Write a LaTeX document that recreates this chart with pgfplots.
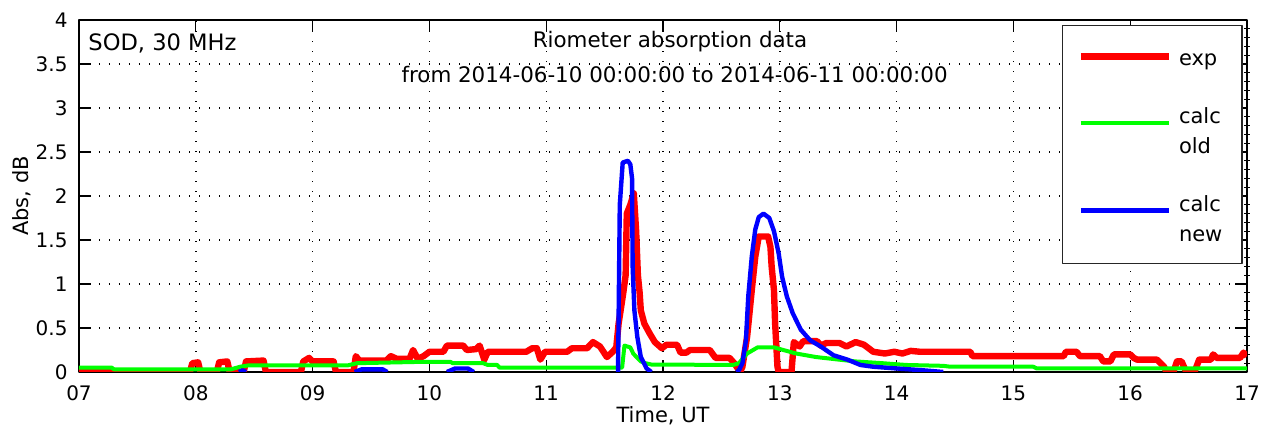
\documentclass[border=0pt]{standalone}
\usepackage{pgfplots}
\usepackage{pgfplotstable}
\pgfplotsset{compat=1.18}
\usepackage{fontspec}
\setmainfont{DejaVu Sans}
\newcommand{\lone}[1]{\hbox to 24pt{\strut #1\hfil}}
\newcommand{\ltwo}[2]{\vbox{\hbox to 24pt{\strut #1\hfil}\hbox to 24pt{\strut #2\hfil}}}
\pgfplotsset{
  legred/.style={legend image code/.code={\draw[##1] (0pt,4.5pt) -- (44pt,4.5pt);}},
  leggreen/.style={legend image code/.code={\draw[##1] (0pt,15.25pt) -- (44pt,15.25pt);}},
  legblue/.style={legend image code/.code={\draw[##1] (0pt,15.5pt) -- (44pt,15.5pt);}},
}

\pgfplotstableread{
x y
7.00 0
7.95 0
7.97 0.1
8.02 0.11
8.04 0
8.18 0
8.20 0.11
8.27 0.12
8.29 0
8.41 0
8.43 0.12
8.58 0.13
8.60 0
8.90 0
8.92 0.12
8.97 0.16
9.00 0.12
9.18 0.12
9.20 0
9.35 0
9.37 0.18
9.40 0.13
9.63 0.13
9.67 0.18
9.72 0.15
9.83 0.15
9.86 0.25
9.90 0.15
9.95 0.18
10.00 0.23
10.12 0.23
10.15 0.30
10.29 0.30
10.32 0.25
10.40 0.26
10.43 0.30
10.47 0.14
10.50 0.23
10.83 0.23
10.88 0.27
10.92 0.27
10.95 0.14
10.99 0.23
11.18 0.23
11.22 0.27
11.35 0.27
11.40 0.34
11.46 0.29
11.52 0.17
11.57 0.23
11.60 0.28
11.62 0.55
11.66 0.9
11.68 1.1
11.69 1.8
11.72 1.9
11.75 2.03
11.77 1.6
11.785 1.1
11.80 0.9
11.81 0.7
11.84 0.55
11.885 0.44
11.93 0.34
11.99 0.27
12.03 0.31
12.12 0.31
12.15 0.22
12.20 0.22
12.23 0.25
12.40 0.25
12.45 0.16
12.57 0.16
12.61 0.1
12.64 0.04
12.66 0
12.68 0.06
12.72 0.4
12.76 0.93
12.79 1.31
12.82 1.54
12.90 1.54
12.92 1.42
12.93 1.2
12.95 0.93
12.96 0.55
12.98 0.06
12.99 0
13.10 0
13.12 0.34
13.17 0.29
13.20 0.35
13.32 0.35
13.35 0.30
13.40 0.33
13.51 0.33
13.57 0.29
13.65 0.34
13.72 0.31
13.80 0.23
13.90 0.21
13.98 0.23
14.05 0.21
14.12 0.24
14.20 0.23
14.63 0.23
14.65 0.18
15.43 0.18
15.45 0.23
15.54 0.23
15.57 0.18
15.74 0.18
15.77 0.12
15.83 0.12
15.86 0.20
16.00 0.20
16.03 0.16
16.06 0.14
16.23 0.14
16.29 0.06
16.31 0
16.37 0
16.40 0.12
16.44 0.12
16.48 0
16.55 0
16.59 0.14
16.69 0.14
16.71 0.20
16.74 0.16
16.94 0.16
16.97 0.22
17.00 0.18
}\redtab

\pgfplotstableread{
x y
7.00 0.05
7.28 0.05
7.30 0.03
8.30 0.03
8.38 0.06
8.45 0.075
9.30 0.075
9.38 0.10
9.92 0.115
10.18 0.115
10.20 0.10
10.46 0.10
10.50 0.08
10.58 0.08
10.60 0.05
11.65 0.05
11.67 0.30
11.72 0.28
11.745 0.21
11.78 0.16
11.81 0.12
11.85 0.10
11.90 0.085
12.60 0.08
12.65 0.10
12.72 0.21
12.81 0.28
12.95 0.28
13.03 0.25
13.14 0.21
13.31 0.17
13.51 0.14
13.65 0.12
13.88 0.10
14.08 0.08
14.40 0.07
14.46 0.06
15.17 0.06
15.20 0.04
17.00 0.04
}\greentab

\pgfplotstableread{
x y
8.37 0
8.40 0.02
8.43 0
8.44 nan
9.36 0
9.42 0.03
9.60 0.03
9.64 0
9.65 nan
10.15 0
10.22 0.04
10.33 0.04
10.38 0
10.39 nan
11.60 0
11.615 0
11.63 1.9
11.655 2.38
11.70 2.40
11.72 2.36
11.735 2.2
11.74 1.2
11.755 0.7
11.78 0.4
11.81 0.17
11.86 0.04
11.90 0
11.91 nan
12.63 0
12.65 0.02
12.68 0.1
12.71 0.36
12.73 0.86
12.76 1.31
12.79 1.62
12.82 1.76
12.86 1.80
12.91 1.75
12.95 1.60
12.99 1.35
13.02 1.08
13.06 0.86
13.11 0.67
13.18 0.48
13.26 0.36
13.35 0.29
13.46 0.19
13.58 0.14
13.69 0.08
13.80 0.06
14.00 0.04
14.22 0.02
14.40 0
}\bluetab

\begin{document}
\begin{tikzpicture}
\useasboundingbox (-39.5pt,-27.5pt) rectangle (592pt,186pt);
% right-side minor ticks
\begin{axis}[
  at={(0,0)}, anchor=south west, scale only axis,
  width=584pt, height=176pt,
  xmin=7, xmax=17, ymin=0, ymax=4,
  axis x line=none, axis y line*=right,
  ytick={0,0.5,1,1.5,2,2.5,3,3.5,4}, yticklabels={},
  major tick length=0pt, minor y tick num=4, minor tick length=2.6pt,
  tick align=center,
  axis line style={black, line width=0.8pt},
  tick style={black, line width=0.5pt},
]
\end{axis}
\begin{axis}[
  at={(0,0)}, anchor=south west, scale only axis,
  width=584pt, height=176pt,
  xmin=7, xmax=17, ymin=0, ymax=4,
  xtick={7,8,9,10,11,12,13,14,15,16,17},
  xticklabels={07,08,09,10,11,12,13,14,15,16,17},
  ytick={0,0.5,1,1.5,2,2.5,3,3.5,4},
  yticklabels={0,0.5,1,1.5,2,2.5,3,3.5,4},
  tick align=inside, major tick length=5.85pt,
  tick style={black, line width=0.6pt},
  axis line style={black, line width=0.8pt},
  grid=major,
  major grid style={black, line width=0.7pt, dash pattern=on 0.7pt off 4.3pt},
  ticklabel style={font=\fontsize{10}{12}\selectfont},
  /pgf/number format/assume math mode=true,
  xticklabel style={yshift=-3.2pt},
  yticklabel style={xshift=-2.2pt},
  xlabel={Time, UT},
  xlabel style={at={(axis description cs:0.5,-0.125)}, anchor=center, font=\fontsize{10.5}{12}\selectfont},
  ylabel={Abs, dB},
  ylabel style={at={(axis description cs:-0.0488,0.5)}, anchor=center, font=\fontsize{10.5}{12}\selectfont},
  unbounded coords=jump,
  line join=round,
  legend cell align=left,
  legend style={at={(0.8416,0.9858)}, anchor=north west,
    draw=black!85, line width=0.6pt, fill=white,
    inner xsep=7.5pt, inner ysep=9.5pt,
    row sep=17pt, column sep=3.5pt,
    font=\fontsize{10.5}{15}\selectfont,
    nodes={inner sep=0pt},
    cells={anchor=base west}},
]
\addplot[color={rgb,255:red,255;green,0;blue,0}, line width=3.2pt, legred]
  table[x=x,y=y] {\redtab};
\addlegendentry{\lone{exp}}
\addplot[color={rgb,255:red,0;green,255;blue,0}, line width=2pt, leggreen]
  table[x=x,y=y] {\greentab};
\addlegendentry{\ltwo{calc}{old}}
\addplot[color={rgb,255:red,0;green,0;blue,255}, line width=2.2pt, legblue]
  table[x=x,y=y] {\bluetab};
\addlegendentry{\ltwo{calc}{new}}
\node[anchor=west, inner sep=0pt, font=\fontsize{11.3}{13}\selectfont] at (rel axis cs:0.0077,0.9347) {SOD, 30 MHz};
\node[anchor=center, inner sep=0pt, font=\fontsize{10.7}{13}\selectfont] at (rel axis cs:0.506,0.9375) {Riometer absorption data};
\node[anchor=center, inner sep=0pt, font=\fontsize{10.7}{13}\selectfont] at (rel axis cs:0.510,0.844) {from 2014-06-10 00:00:00 to 2014-06-11 00:00:00};
\end{axis}
\end{tikzpicture}
\end{document}
